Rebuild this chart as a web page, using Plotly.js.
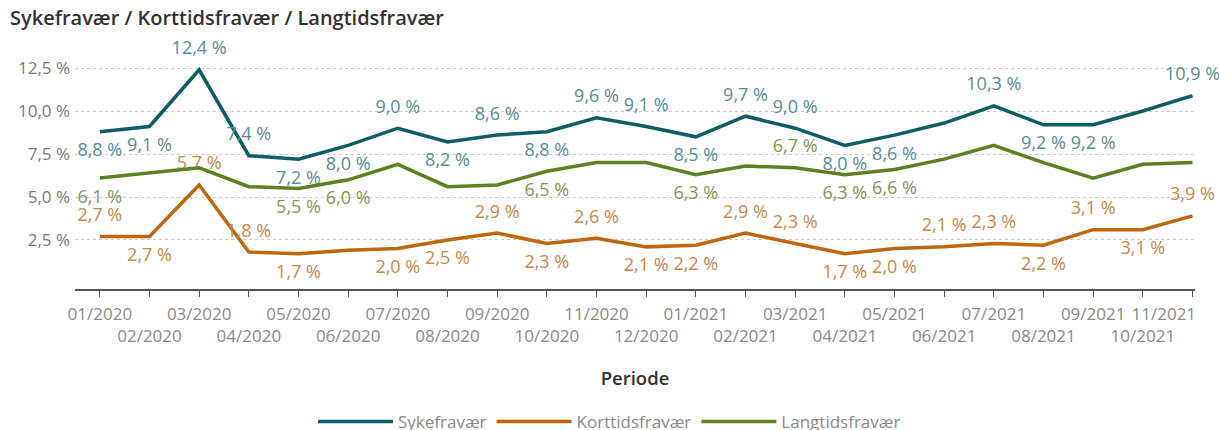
<!DOCTYPE html>
<html>
<head>
<meta charset="utf-8">
<script src="https://cdn.plot.ly/plotly-3.0.1.min.js"></script>
<style>
  html, body { margin: 0; padding: 0; background: #fff; }
  #chart { width: 1219px; height: 430px; }
</style>
</head>
<body>
<div id="chart"></div>
<script>
// ---- data ----
const months = ["01/2020","02/2020","03/2020","04/2020","05/2020","06/2020","07/2020","08/2020","09/2020","10/2020","11/2020","12/2020",
                "01/2021","02/2021","03/2021","04/2021","05/2021","06/2021","07/2021","08/2021","09/2021","10/2021","11/2021"];
const sykefravaer   = [8.8, 9.1, 12.4, 7.4, 7.2, 8.0, 9.0, 8.2, 8.6, 8.8, 9.6, 9.1, 8.5, 9.7, 9.0, 8.0, 8.6, 9.3, 10.3, 9.2, 9.2, 10.0, 10.9];
const korttid       = [2.7, 2.7, 5.7, 1.8, 1.7, 1.9, 2.0, 2.5, 2.9, 2.3, 2.6, 2.1, 2.2, 2.9, 2.3, 1.7, 2.0, 2.1, 2.3, 2.2, 3.1, 3.1, 3.9];
const langtid       = [6.1, 6.4, 6.7, 5.6, 5.5, 6.0, 6.9, 5.6, 5.7, 6.5, 7.0, 7.0, 6.3, 6.8, 6.7, 6.3, 6.6, 7.2, 8.0, 7.0, 6.1, 6.9, 7.0];
const seriesNames = ["Sykefravær", "Korttidsfravær", "Langtidsfravær"];
const yTickVals = [2.5, 5, 7.5, 10, 12.5];

// ---- label placement (T = above, B = below, - = hidden) ----
const sykPos   = "BBTTBBTBTBTTBTTBB-TBB-T";
const kortPos  = "TBTTB-BBTBTBBTTBBTTBTBT";
const langPos  = "B---BB---B--B-TBB------";

const FONT = 'Open Sans, sans-serif';
const fmt = v => v.toFixed(1).replace('.', ',') + ' %';
const posOf = c => c === 'T' ? 'top center' : 'bottom center';
function texts(vals, pos) { return vals.map((v, i) => pos[i] === '-' ? '' : fmt(v)); }
function positions(pos) { return pos.split('').map(posOf); }

const colors = ['#0e5e66', '#c0660d', '#5e8120'];
const labelColors = ['#5d8c93', '#c48a50', '#83955c'];
const vals = [sykefravaer, korttid, langtid];
const posStr = [sykPos, kortPos, langPos];

const traces = vals.map((v, k) => ({
  type: 'scatter',
  mode: 'lines+markers+text',
  name: seriesNames[k],
  x: months,
  y: v,
  text: texts(v, posStr[k]),
  textposition: positions(posStr[k]),
  textfont: { family: FONT, size: 18, color: labelColors[k] },
  line: { color: colors[k], width: 3.5 },
  marker: { size: 16, color: 'rgba(0,0,0,0)', line: { width: 0, color: 'rgba(0,0,0,0)' } },
  hoverinfo: 'x+y+name',
  cliponaxis: false
}));

const tickText = months.map((m, i) => {
  let t = i % 2 === 0 ? m : '<br>' + m;
  if (i === months.length - 1) t = t + '\u00a0'.repeat(13);
  return t;
});

const layout = {
  width: 1219, height: 430,
  margin: { l: 75, r: 24, t: 56, b: 141 },
  paper_bgcolor: '#fff', plot_bgcolor: '#fff',
  font: { family: FONT, color: '#777' },
  title: {
    text: 'Sykefravær / Korttidsfravær / Langtidsfravær',
    x: 10 / 1219, xanchor: 'left', xref: 'container',
    y: 1 - 18 / 430, yanchor: 'middle', yref: 'container',
    font: { family: FONT, size: 20, color: '#333', weight: 600 }
  },
  xaxis: {
    type: 'category',
    categoryorder: 'array', categoryarray: months,
    range: [-0.5, 22.05],
    tickmode: 'array', tickvals: months, ticktext: tickText,
    tickangle: 0,
    ticks: 'outside', ticklen: 6, tickcolor: '#555', tickwidth: 1,
    ticklabelstandoff: 3,
    showline: true, linecolor: '#555', linewidth: 1.5,
    showgrid: false, zeroline: false,
    tickfont: { family: FONT, size: 17, color: '#8a8a8a' },
    title: { text: 'Periode', standoff: 26, font: { family: FONT, size: 18.5, color: '#333', weight: 600 } }
  },
  yaxis: {
    range: [-0.35, 13.2],
    tickmode: 'array', tickvals: yTickVals, ticktext: yTickVals.map(v => v.toFixed(1).replace('.', ',') + ' %'),
    showgrid: true, gridcolor: '#c9c9c9', griddash: 'dot', gridwidth: 1,
    zeroline: false, showline: false, ticks: '',
    ticklabelstandoff: 4,
    tickfont: { family: FONT, size: 17, color: '#7a7a7a' }
  },
  showlegend: true,
  legend: {
    orientation: 'h', x: 0.5, xanchor: 'center', xref: 'container',
    y: 1 - 422 / 430, yanchor: 'middle', yref: 'container',
    font: { family: FONT, size: 17, color: '#8a8a8a' },
    itemwidth: 75, traceorder: 'normal'
  }
};

Plotly.newPlot('chart', traces, layout, { displayModeBar: false, responsive: false });
</script>
</body>
</html>
